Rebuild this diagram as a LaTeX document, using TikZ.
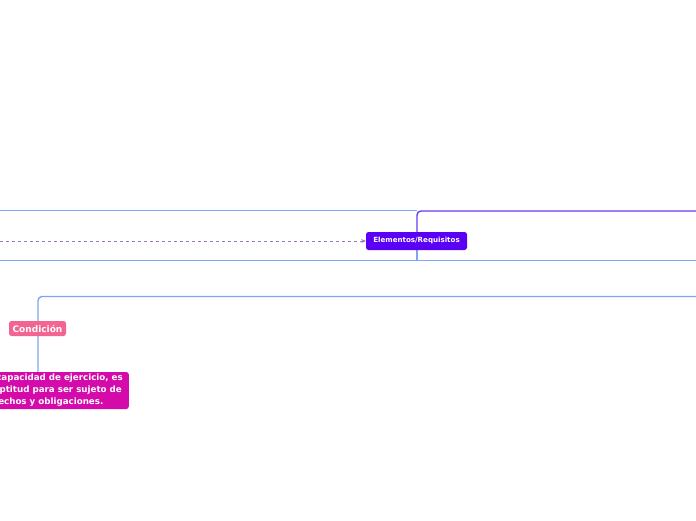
\documentclass[tikz,border=0pt]{standalone}
\usepackage{fontspec}
\setmainfont{DejaVu Sans}
\usetikzlibrary{arrows.meta}
\definecolor{lblue}{HTML}{7FA4F7}
\definecolor{vline}{HTML}{6A3BF5}
\definecolor{vnode}{HTML}{5A00F5}
\definecolor{dashc}{HTML}{9A78B8}
\definecolor{pinkn}{HTML}{F26592}
\definecolor{magn}{HTML}{D40AAA}
\tikzset{
  topic/.style={rounded corners=2.5pt, text=white, font=\bfseries, inner sep=0pt},
  conn/.style={line width=1.4pt, rounded corners=4pt},
}
\begin{document}
\begin{tikzpicture}[x=1pt,y=-1pt]
\useasboundingbox (0,0) rectangle (696,520);
\fill[white] (0,0) rectangle (696,520);
% lines
\draw[conn, lblue] (0,210.5) -- (417,210.5);
\draw[conn, lblue] (0,260.5) -- (696,260.5);
\coordinate (j1) at (417,241);
\draw[conn, vline] (j1) -- (417,211) -- (696,211);
\draw[conn, lblue] (j1) -- (417,260.5);
\draw[conn, lblue] (38,372) -- (38,296.5) -- (696,296.5);
% nodes
\node[topic, fill=vnode, minimum width=101pt, minimum height=18pt, font=\bfseries\fontsize{7.1}{8}\selectfont] (elem) at (416.5,241) {Elementos/Requisitos};
\coordinate (dstart) at (0,241);
\draw[dashc, line width=1pt, dash pattern=on 3pt off 3pt, -{Stealth[length=4.5pt,width=4pt]}] (dstart) -- (elem.west);
\node[topic, fill=pinkn, minimum width=57pt, minimum height=15pt, font=\bfseries\fontsize{9}{10}\selectfont] (cond) at (37.5,328.5) {Condición};
\node[topic, fill=magn, anchor=east, minimum height=37pt, inner xsep=6pt, align=left, font=\bfseries\fontsize{8.7}{12}\selectfont] (cap) at (129,390.5) {La capacidad de ejercicio, es\\la aptitud para ser sujeto de\\derechos y obligaciones.};
\end{tikzpicture}
\end{document}
